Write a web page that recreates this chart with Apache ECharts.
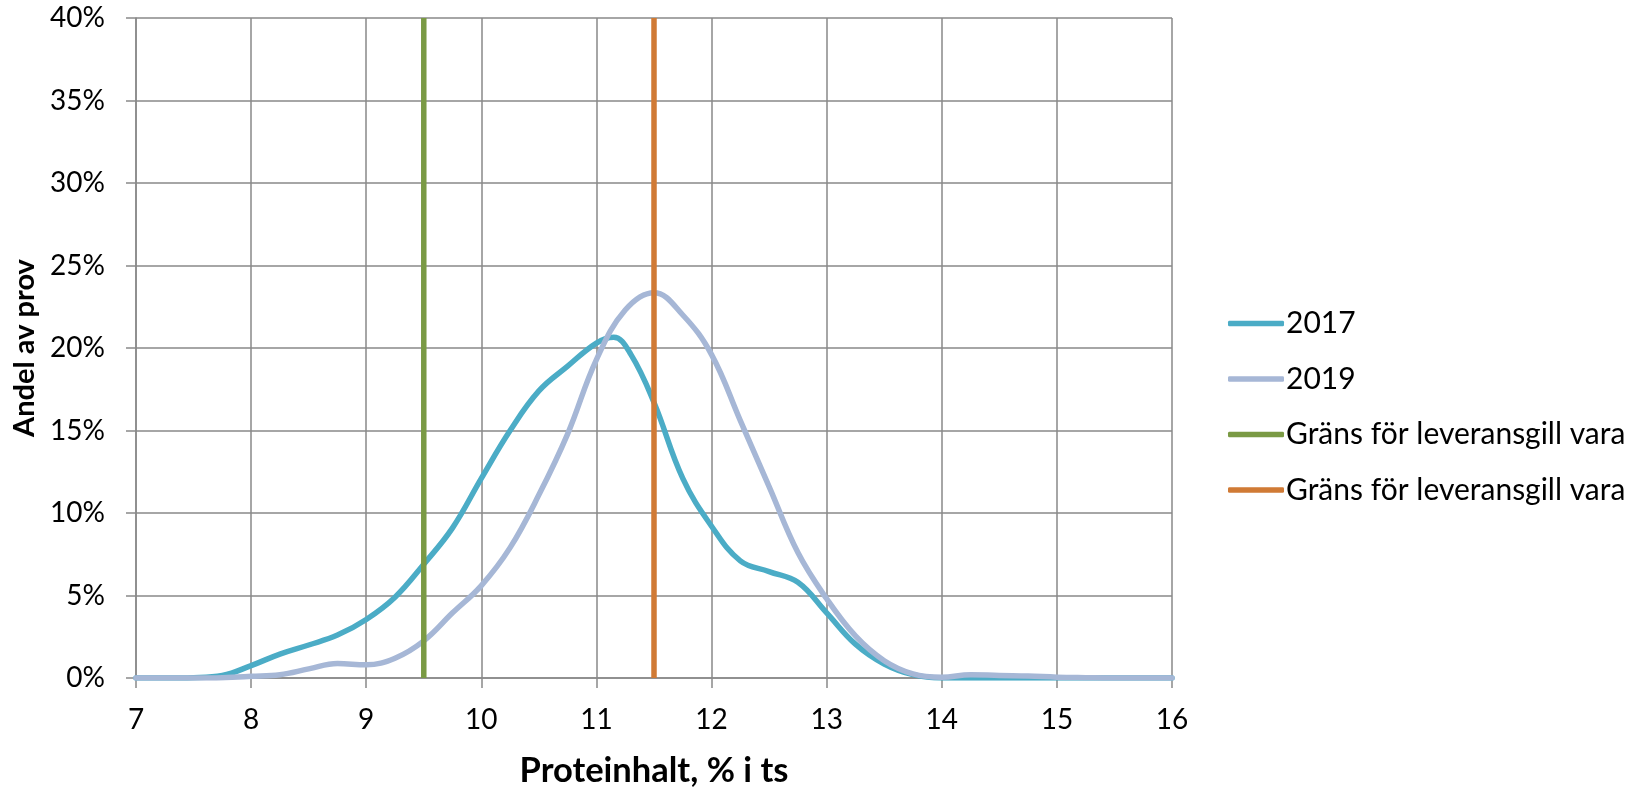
<!DOCTYPE html>
<html>
<head>
<meta charset="utf-8">
<script src="https://cdn.jsdelivr.net/npm/echarts@6/dist/echarts.min.js"></script>
<style>
  html, body { margin: 0; padding: 0; background: #ffffff; }
  #chart { width: 1644px; height: 793px; }
</style>
</head>
<body>
<div id="chart"></div>
<script>
// Protein content (% of dry matter), x positions for 2019
const protein = [7, 7.25, 7.5, 7.75, 8, 8.25, 8.5, 8.75, 9, 9.25, 9.5, 9.75, 10, 10.25, 10.5, 10.75,
  11, 11.25, 11.5, 11.75, 12, 12.25, 12.5, 12.75, 13, 13.25, 13.5, 13.75, 14, 14.25, 14.5, 14.75,
  15, 15.25, 15.5, 15.75, 16];
// x positions for 2017 (extra points around its peak)
const protein2017 = [7, 7.25, 7.5, 7.75, 8, 8.25, 8.5, 8.75, 9, 9.25, 9.5, 9.75, 10, 10.25, 10.5, 10.75,
  11, 11.15, 11.3, 11.5, 11.75, 12, 12.25, 12.5, 12.75, 13, 13.25, 13.5, 13.75, 14, 14.25, 14.5, 14.75,
  15, 15.25, 15.5, 15.75, 16];
// Share of samples (%)
const share2017 = [0, 0, 0.02, 0.15, 0.75, 1.45, 2.0, 2.6, 3.55, 4.9, 6.9, 9.1, 12.1, 15.0, 17.4, 18.9,
  20.3, 20.65, 19.6, 16.7, 12.1, 9.2, 7.1, 6.45, 5.8, 3.95, 2.05, 0.85, 0.2, 0, 0, 0, 0,
  0, 0, 0, 0, 0];
const share2019 = [0, 0, 0, 0.02, 0.1, 0.2, 0.55, 0.88, 0.8, 1.2, 2.25, 3.95, 5.6, 7.9, 11.1, 14.8,
  19.3, 22.3, 23.35, 22.0, 19.6, 15.6, 11.6, 7.6, 4.8, 2.55, 1.05, 0.25, 0.05, 0.2, 0.15, 0.12,
  0.05, 0.02, 0, 0, 0];
// Limits for deliverable goods (protein %)
const limitLow = 9.5;
const limitHigh = 11.5;
const limitSpan = [0, 40];

const seriesNames = ['2017', '2019', 'Gräns för leveransgill vara', 'Gräns för leveransgill vara '];
const xTicks = { min: 7, max: 16, interval: 1 };
const yTicks = { min: 0, max: 40, interval: 5 };
const xTitle = 'Proteinhalt, % i ts';
const yTitle = 'Andel av prov';

const colors = ['#4BACC6', '#A6B7D6', '#7A9A44', '#D07A35'];
const FONT = 'Lato';
const gridColor = '#898989';

const pairs = (xs, ys) => xs.map((x, i) => [x, ys[i]]);
const vline = (x) => limitSpan.map(y => [x, y]);

const chart = echarts.init(document.getElementById('chart'), null, { renderer: 'canvas' });
chart.setOption({
  animation: false,
  backgroundColor: '#ffffff',
  color: colors,
  textStyle: { fontFamily: FONT, color: '#000' },
  grid: { left: 136, right: 472, top: 18, bottom: 110, containLabel: false },
  legend: {
    orient: 'vertical',
    left: 1228,
    top: 308,
    padding: 0,
    icon: 'roundRect',
    itemWidth: 56,
    itemHeight: 5.5,
    itemGap: 24.5,
    data: seriesNames,
    textStyle: { fontFamily: FONT, fontSize: 30, color: '#000', lineHeight: 31, padding: [0, 0, 0, -3] }
  },
  xAxis: {
    type: 'value',
    min: xTicks.min, max: xTicks.max, interval: xTicks.interval,
    name: xTitle,
    nameLocation: 'middle',
    nameGap: 75,
    nameTextStyle: { fontFamily: FONT, fontSize: 34.5, fontWeight: 'bold', color: '#000' },
    axisLine: { show: true, lineStyle: { color: gridColor, width: 1.5 } },
    axisTick: { show: true, length: 10, lineStyle: { color: gridColor, width: 1.5 } },
    axisLabel: { fontFamily: FONT, fontSize: 28, color: '#000', margin: 28 },
    splitLine: { show: true, lineStyle: { color: gridColor, width: 1.5 } }
  },
  yAxis: {
    type: 'value',
    min: yTicks.min, max: yTicks.max, interval: yTicks.interval,
    name: yTitle,
    nameLocation: 'middle',
    nameGap: 96,
    nameTextStyle: { fontFamily: FONT, fontSize: 29, fontWeight: 'bold', color: '#000' },
    axisLine: { show: true, lineStyle: { color: gridColor, width: 1.5 } },
    axisTick: { show: true, length: 10, lineStyle: { color: gridColor, width: 1.5 } },
    axisLabel: { fontFamily: FONT, fontSize: 28, color: '#000', margin: 31, formatter: '{value}%' },
    splitLine: { show: true, lineStyle: { color: gridColor, width: 1.5 } }
  },
  series: [
    { name: seriesNames[0], type: 'line', smooth: 0.4, symbol: 'none', data: pairs(protein2017, share2017),
      lineStyle: { width: 5.5, color: colors[0], cap: 'round', join: 'round' } },
    { name: seriesNames[1], type: 'line', smooth: 0.4, symbol: 'none', data: pairs(protein, share2019),
      lineStyle: { width: 5.5, color: colors[1], cap: 'round', join: 'round' } },
    { name: seriesNames[2], type: 'line', symbol: 'none', data: vline(limitLow),
      lineStyle: { width: 5.5, color: colors[2] } },
    { name: seriesNames[3], type: 'line', symbol: 'none', data: vline(limitHigh),
      lineStyle: { width: 5.5, color: colors[3] } }
  ]
});
</script>
</body>
</html>
